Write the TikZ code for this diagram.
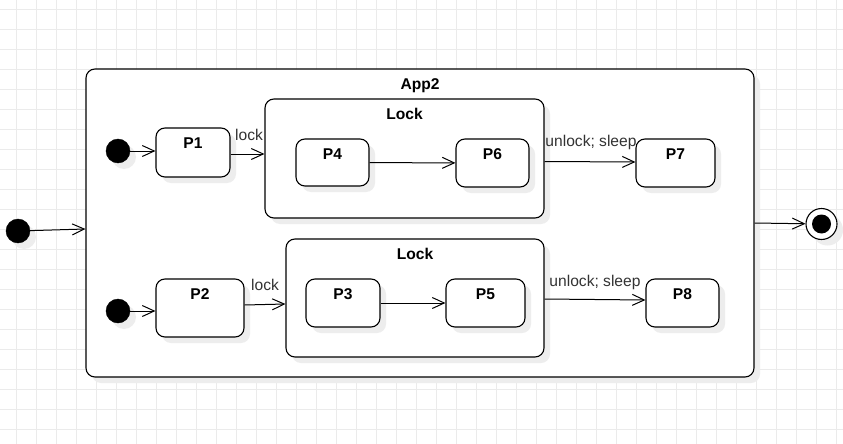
\documentclass[tikz,border=0pt]{standalone}
\usepackage{fontspec}
\setmainfont{Liberation Sans}
\usetikzlibrary{arrows.meta,calc,shadows}
\definecolor{gridc}{HTML}{EBEBEB}
\definecolor{shadowc}{HTML}{EDEDED}
\definecolor{labc}{HTML}{333333}
\begin{document}
\begin{tikzpicture}[x=1pt,y=-1pt,
  font=\fontsize{15.6}{18}\selectfont,
  shad/.style={drop shadow={shadow xshift=6pt,shadow yshift=-6pt,fill=shadowc,opacity=1}},
  stbox/.style={draw,line width=1.1pt,rounded corners=9pt,fill=white,inner sep=0pt,shad},
  initdot/.style={circle,fill=black,draw=black,minimum size=24pt,inner sep=0pt,shad},
  ttl/.style={font=\fontsize{15.6}{18}\selectfont\bfseries,anchor=base,inner sep=0pt},
  elab/.style={text=labc,anchor=base,inner sep=0pt},
  edge/.style={-{Straight Barb[length=12pt,width=11pt]},line width=1pt,line join=miter}
]
\fill[white] (0,0) rectangle (843,444);
\useasboundingbox (0,0) rectangle (843,444);
\foreach \i in {0,...,41} \draw[gridc,line width=0.9pt] ({16.7+20*\i},0) -- ++(0,444);
\foreach \j in {0,...,21} \draw[gridc,line width=0.9pt] (0,{9+20*\j}) -- ++(843,0);

% composite state
\node[stbox,minimum width=668pt,minimum height=308pt] (app2) at (420,223) {};
\node[ttl] (app2t) at ([yshift=-21pt]app2.north) {App2};

% locks
\node[stbox,minimum width=279pt,minimum height=119pt] (lock1) at (404.5,158.5) {};
\node[ttl] (lock1t) at ([yshift=-21pt]lock1.north) {Lock};
\node[stbox,minimum width=258pt,minimum height=118pt] (lock2) at (415,298) {};
\node[ttl] (lock2t) at ([yshift=-21pt]lock2.north) {Lock};

% states
\node[stbox,minimum width=74pt,minimum height=49pt] (P1) at (193,152.5) {};
\node[stbox,minimum width=73pt,minimum height=47pt] (P4) at (332.5,162.5) {};
\node[stbox,minimum width=73pt,minimum height=48pt] (P6) at (492.5,163) {};
\node[stbox,minimum width=79pt,minimum height=48pt] (P7) at (675.5,163) {};
\node[stbox,minimum width=88pt,minimum height=58pt] (P2) at (200,308) {};
\node[stbox,minimum width=74pt,minimum height=48pt] (P3) at (343,303) {};
\node[stbox,minimum width=79pt,minimum height=48pt] (P5) at (485.5,303) {};
\node[stbox,minimum width=73pt,minimum height=48pt] (P8) at (682.5,303) {};
\foreach \n in {P1,P2,P3,P4,P5,P6,P7,P8}
  \node[ttl] (\n t) at ([yshift=-21.5pt]\n.north) {\n};

% initial and final
\node[initdot] (init0) at (18,231) {};
\node[initdot] (init1) at (118,151) {};
\node[initdot] (init2) at (118,311) {};
\node[circle,draw=black,line width=1.1pt,fill=white,minimum size=31pt,inner sep=0pt,shad] (final) at (821.5,224) {};
\node[circle,fill=black,minimum size=19pt,inner sep=0pt] (finalin) at (final) {};

% transitions
\draw[edge] (init0) -- ($(app2.west)+(0,6)$);
\draw[edge] (app2.east) -- (final);
\draw[edge] (init1) -- (init1 -| P1.west);
\draw[edge] ($(P1.east)+(0,1.5)$) -- ($(P1.east -| lock1.west)+(0,1.5)$);
\draw[edge] (P4) -- (P6);
\draw[edge] ($(lock1.east |- P7)+(0,-1.5)$) -- ($(P7.west)+(0,-1)$);
\draw[edge] (init2) -- (init2 -| P2.west);
\draw[edge] ($(P2.east)+(0,-3)$) -- ($(P2.east -| lock2.west)+(0,-4)$);
\draw[edge] (P3) -- (P5);
\draw[edge] ($(lock2.east)+(0,1)$) -- ($(lock2.east -| P8.west)+(0,2)$);

% labels
\node[elab] (l1) at (249,140) {lock};
\node[elab] (l2) at (265,290) {lock};
\node[elab] (u1) at (591,146.5) {unlock; sleep};
\node[elab] (u2) at (595,286) {unlock; sleep};
\end{tikzpicture}
\end{document}
